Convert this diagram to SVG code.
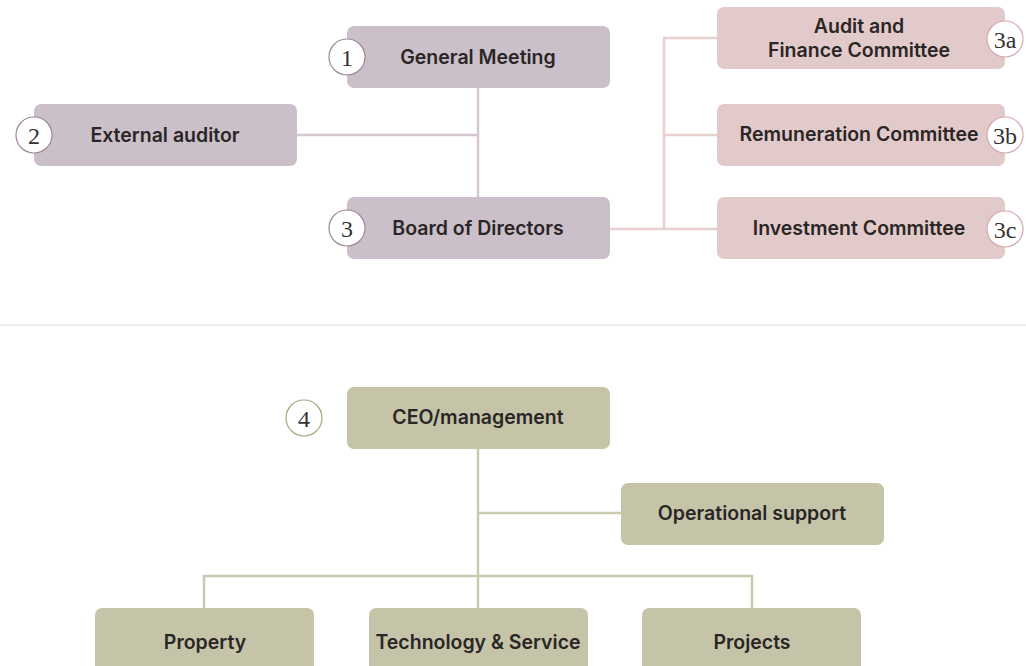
<svg xmlns="http://www.w3.org/2000/svg" width="1026" height="666" viewBox="0 0 1026 666">
<style>
.lbl{font-family:Inter,"Liberation Sans",sans-serif;font-weight:600;font-size:19.5px;fill:#2a2626;text-anchor:middle;dominant-baseline:central}
.num{font-family:"Liberation Serif","DejaVu Serif",serif;font-size:24px;fill:#333;text-anchor:middle;dominant-baseline:central}
.pb{fill:#cbbfc9}
.kb{fill:#e3caca}
.ob{fill:#c5c4a8}
.pc{fill:#fff;stroke:#9f8898;stroke-width:1.2}
.kc{fill:#fff;stroke:#d6a9ab;stroke-width:1.2}
.oc{fill:#fff;stroke:#a9a67e;stroke-width:1.2}
.lp{stroke:#d5c7d1;stroke-width:2.5;fill:none}
.lk{stroke:#e8d0d0;stroke-width:2.5;fill:none}
.lo{stroke:#cac9ad;stroke-width:2.5;fill:none}
</style>
<rect width="1026" height="666" fill="#fff"/>
<g id="connectors">
<path class="lp" d="M478 88V197M297 135H478"/>
<path class="lk" d="M610 229H717M664 229V38H717M664 135H717"/>
<path class="lo" d="M478 448V608M478 513H621M204 608V576H752V608"/>
</g>
<line x1="0" y1="325" x2="1026" y2="325" stroke="#dcdcdc" stroke-width="1.2"/>
<g id="general-meeting"><rect class="pb" x="347" y="26" width="263" height="62" rx="7"/><text class="lbl" x="478" y="57">General Meeting</text><circle class="pc" cx="347" cy="57" r="18"/><text class="num" x="347" y="58">1</text></g>
<g id="external-auditor"><rect class="pb" x="34" y="104" width="263" height="62" rx="7"/><text class="lbl" x="165" y="135">External auditor</text><circle class="pc" cx="34" cy="135" r="18"/><text class="num" x="34" y="136">2</text></g>
<g id="board"><rect class="pb" x="347" y="197" width="263" height="62" rx="7"/><text class="lbl" x="478" y="228">Board of Directors</text><circle class="pc" cx="347" cy="228" r="18"/><text class="num" x="347" y="229">3</text></g>
<g id="audit-committee"><rect class="kb" x="717" y="7" width="288" height="62" rx="7"/><text class="lbl" x="859" y="26">Audit and</text><text class="lbl" x="859" y="50">Finance Committee</text><circle class="kc" cx="1005" cy="39" r="18"/><text class="num" x="1005" y="40">3a</text></g>
<g id="remuneration-committee"><rect class="kb" x="717" y="104" width="288" height="62" rx="7"/><text class="lbl" x="859" y="134">Remuneration Committee</text><circle class="kc" cx="1005" cy="135" r="18"/><text class="num" x="1005" y="136">3b</text></g>
<g id="investment-committee"><rect class="kb" x="717" y="197" width="288" height="62" rx="7"/><text class="lbl" x="859" y="228">Investment Committee</text><circle class="kc" cx="1005" cy="229" r="18"/><text class="num" x="1005" y="230">3c</text></g>
<g id="ceo"><rect class="ob" x="347" y="387" width="263" height="62" rx="7"/><text class="lbl" x="478" y="417">CEO/management</text><circle class="oc" cx="304" cy="418" r="18"/><text class="num" x="304" y="419">4</text></g>
<g id="operational-support"><rect class="ob" x="621" y="483" width="263" height="62" rx="7"/><text class="lbl" x="752" y="513">Operational support</text></g>
<g id="property"><rect class="ob" x="95" y="608" width="219" height="70" rx="7"/><text class="lbl" x="205" y="642">Property</text></g>
<g id="technology"><rect class="ob" x="369" y="608" width="219" height="70" rx="7"/><text class="lbl" x="478" y="642">Technology &amp; Service</text></g>
<g id="projects"><rect class="ob" x="642" y="608" width="219" height="70" rx="7"/><text class="lbl" x="752" y="642">Projects</text></g>
</svg>
